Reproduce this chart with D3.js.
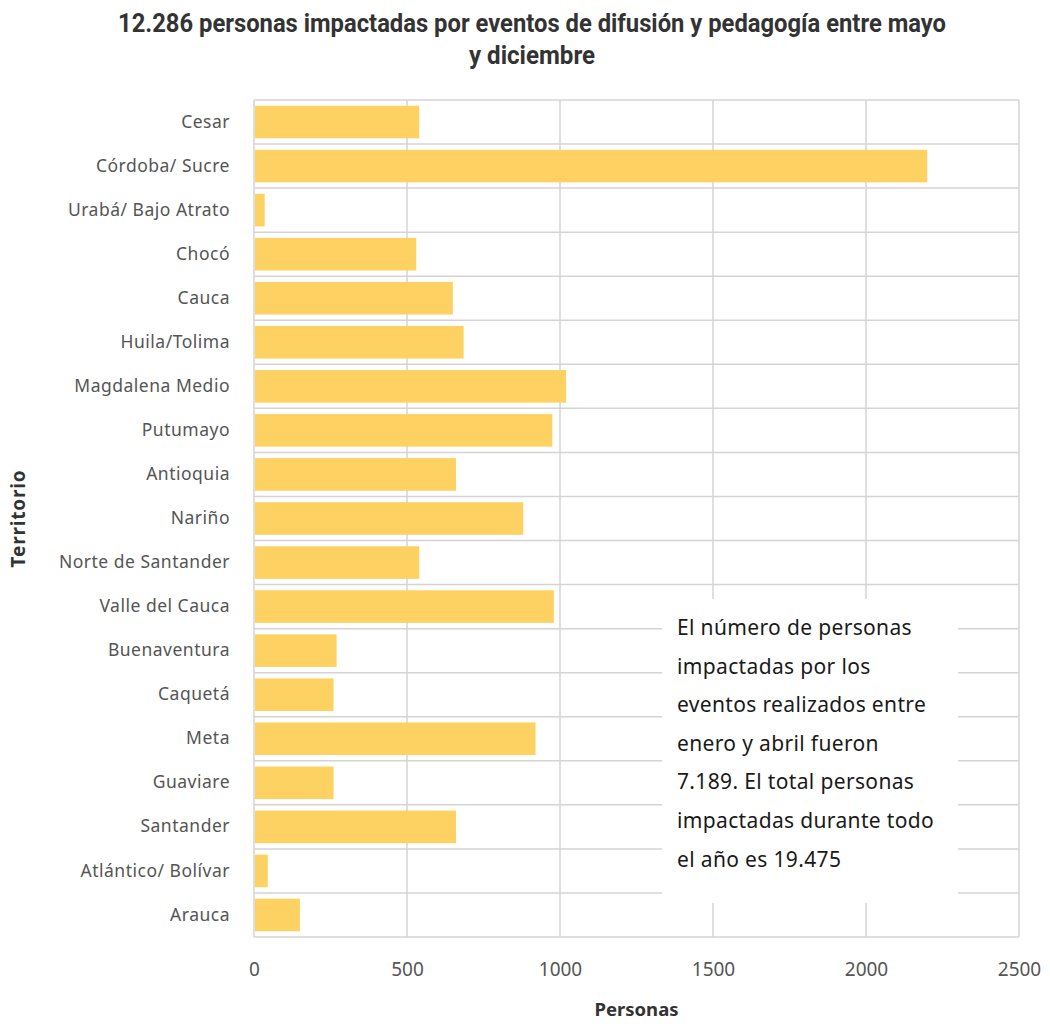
<!DOCTYPE html>
<html>
<head>
<meta charset="utf-8">
<script src="https://cdn.jsdelivr.net/npm/d3@7"></script>
<style>
  html, body { margin: 0; padding: 0; background: #fff; }
  svg { display: block; }
</style>
</head>
<body>
<svg id="chart" width="1050" height="1024"></svg>
<script>
const categories = ["Cesar", "Córdoba/ Sucre", "Urabá/ Bajo Atrato", "Chocó", "Cauca", "Huila/Tolima",
  "Magdalena Medio", "Putumayo", "Antioquia", "Nariño", "Norte de Santander", "Valle del Cauca",
  "Buenaventura", "Caquetá", "Meta", "Guaviare", "Santander", "Atlántico/ Bolívar", "Arauca"];
const values = [540, 2200, 35, 530, 650, 685, 1020, 975, 660, 880, 540, 980, 270, 260, 920, 260, 660, 45, 150];
const xTicks = [0, 500, 1000, 1500, 2000, 2500];
const titleLines = ["12.286 personas impactadas por eventos de difusión y pedagogía entre mayo", "y diciembre"];
const noteLines = ["El número de personas", "impactadas por los", "eventos realizados entre",
  "enero y abril fueron", "7.189. El total personas", "impactadas durante todo", "el año es 19.475"];
const xTitle = "Personas";
const yTitle = "Territorio";

(function () {
const svg = d3.select("#chart");
const pL = 254, pR = 1019, pT = 100, pB = 937;

const x = d3.scaleLinear().domain([0, 2500]).range([pL, pR]);
const y = d3.scaleBand().domain(categories).range([pT, pB]).padding(0);
const barH = y.bandwidth() * 0.74;

const grid = "#d4d4d4";

// horizontal grid lines (row boundaries)
const hLines = d3.range(categories.length + 1).map(i => pT + i * y.step());
svg.append("g").selectAll("line").data(hLines).join("line")
  .attr("x1", pL).attr("x2", pR)
  .attr("y1", d => d).attr("y2", d => d)
  .attr("stroke", grid).attr("stroke-width", 1.5);

// vertical grid lines
svg.append("g").selectAll("line").data(xTicks).join("line")
  .attr("x1", d => x(d)).attr("x2", d => x(d))
  .attr("y1", pT).attr("y2", pB)
  .attr("stroke", grid).attr("stroke-width", 1.5);

// bars
svg.append("g").selectAll("rect").data(categories).join("rect")
  .attr("x", x(0) + 1)
  .attr("y", d => y(d) + (y.bandwidth() - barH) / 2)
  .attr("width", (d, i) => Math.max(0, x(values[i]) - x(0) - 1))
  .attr("height", barH)
  .attr("fill", "#fdd263");

// axes via d3
const xAxis = svg.append("g").attr("transform", `translate(0,${pB})`)
  .call(d3.axisBottom(x).tickValues(xTicks).tickSize(0).tickPadding(26).tickFormat(d3.format("d")));
xAxis.select(".domain").remove();
xAxis.selectAll("text").attr("font-family", "'Noto Sans', sans-serif").attr("font-size", 19)
  .attr("fill", "#555");

const yAxis = svg.append("g").attr("transform", `translate(${pL},0)`)
  .call(d3.axisLeft(y).tickSize(0).tickPadding(24));
yAxis.select(".domain").remove();
yAxis.selectAll("text").attr("font-family", "'Noto Sans', sans-serif").attr("font-size", 17.5)
  .attr("letter-spacing", 0.5)
  .attr("fill", "#555");

// annotation box
svg.append("rect").attr("x", 662).attr("y", 599).attr("width", 296).attr("height", 304)
  .attr("fill", "#fff");
svg.append("g").selectAll("text").data(noteLines).join("text")
  .attr("x", 677).attr("y", (d, i) => 635 + i * 38.6)
  .attr("font-family", "'Noto Sans', sans-serif").attr("font-size", 21)
  .attr("letter-spacing", 0.35)
  .attr("fill", "#1a1a1a").text(d => d);

// titles
const titleW = [828, 126];
svg.append("g").selectAll("text").data(titleLines).join("text")
  .attr("x", 532).attr("y", (d, i) => 32 + i * 32)
  .attr("text-anchor", "middle")
  .attr("font-family", "Roboto, sans-serif").attr("font-weight", 700).attr("font-size", 25)
  .attr("textLength", (d, i) => titleW[i]).attr("lengthAdjust", "spacingAndGlyphs")
  .attr("fill", "#333")
  .text(d => d);

svg.append("text").attr("x", (pL + pR) / 2).attr("y", 1016)
  .attr("text-anchor", "middle")
  .attr("font-family", "'Noto Sans', sans-serif").attr("font-weight", 700).attr("font-size", 18.5)
  .attr("fill", "#333").text(xTitle);

svg.append("text").attr("transform", `translate(25,${(pT + pB) / 2}) rotate(-90)`)
  .attr("text-anchor", "middle")
  .attr("font-family", "'Noto Sans', sans-serif").attr("font-weight", 700).attr("font-size", 19)
  .attr("letter-spacing", 0.8)
  .attr("fill", "#333").text(yTitle);
})();
</script>
</body>
</html>
